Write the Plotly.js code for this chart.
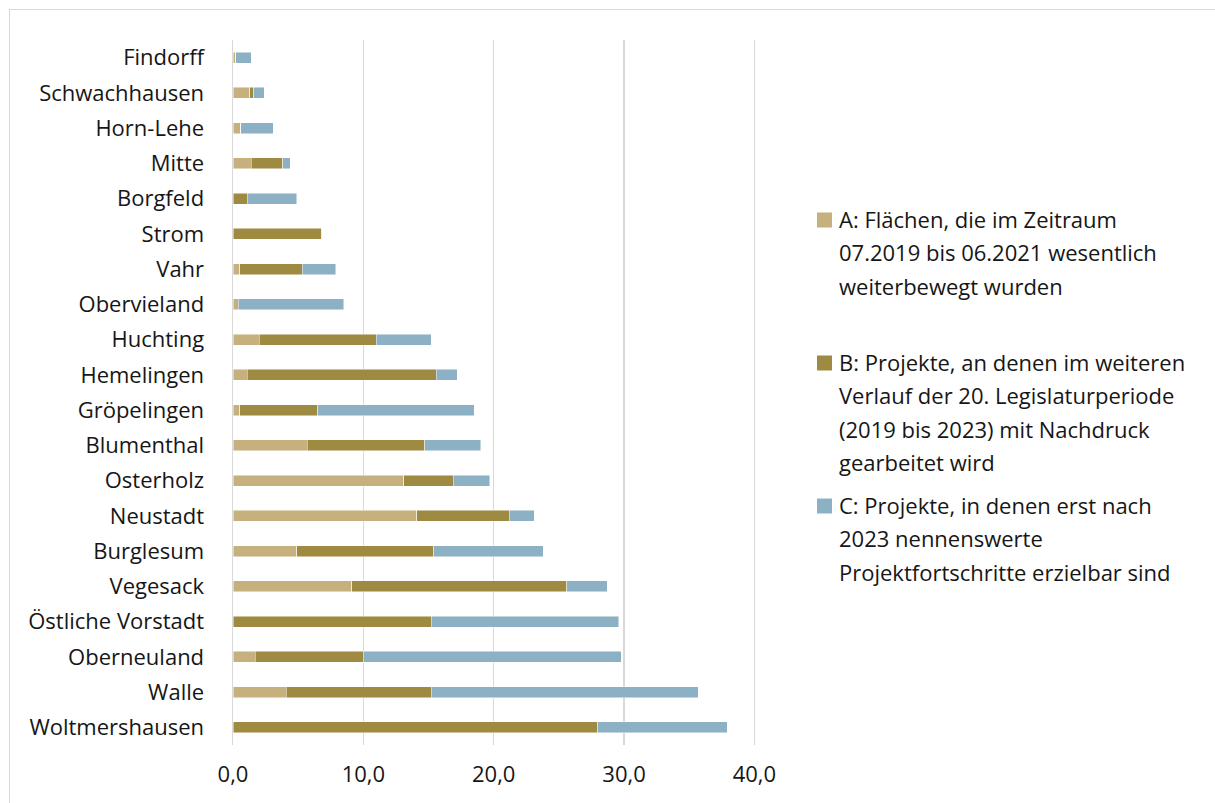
<!DOCTYPE html>
<html>
<head>
<meta charset="utf-8">
<script src="https://cdn.plot.ly/plotly-3.0.1.min.js"></script>
<style>
  html, body { margin: 0; padding: 0; background: #fff; overflow: hidden; }
  #frame { position: absolute; left: 9px; top: 9px; width: 1220px; height: 810px;
           border-left: 1.5px solid #d9d9d9; border-top: 1.5px solid #d9d9d9; pointer-events: none; }
  #chart { position: absolute; left: 0; top: 0; width: 1215px; height: 803px; }
</style>
</head>
<body>
<div id="chart"></div>
<div id="frame"></div>
<script>
// Stadtteile, top to bottom
const districts = ["Findorff", "Schwachhausen", "Horn-Lehe", "Mitte", "Borgfeld", "Strom", "Vahr",
  "Obervieland", "Huchting", "Hemelingen", "Gröpelingen", "Blumenthal", "Osterholz", "Neustadt",
  "Burglesum", "Vegesack", "Östliche Vorstadt", "Oberneuland", "Walle", "Woltmershausen"];

// A: Flächen, die im Zeitraum 07.2019 bis 06.2021 wesentlich weiterbewegt wurden
const seriesA = [0.2, 1.3, 0.6, 1.4, 0.0, 0.0, 0.5, 0.4, 2.0, 1.1, 0.5, 5.7, 13.1, 14.1, 4.9, 9.1, 0.0, 1.7, 4.1, 0.0];
// B: Projekte mit Nachdruck in der 20. Legislaturperiode
const seriesB = [0.0, 0.3, 0.0, 2.4, 1.1, 6.8, 4.8, 0.0, 9.0, 14.5, 6.0, 9.0, 3.8, 7.1, 10.5, 16.5, 15.2, 8.3, 11.1, 28.0];
// C: Projekte mit nennenswerten Fortschritten erst nach 2023
const seriesC = [1.2, 0.8, 2.5, 0.6, 3.8, 0.0, 2.6, 8.1, 4.2, 1.6, 12.0, 4.3, 2.8, 1.9, 8.4, 3.1, 14.4, 19.8, 20.5, 9.9];

const xTicks = [0, 10, 20, 30, 40];

const legendLines = [
  ["A: Flächen, die im Zeitraum", "07.2019 bis 06.2021 wesentlich", "weiterbewegt wurden"],
  ["B: Projekte, an denen im weiteren", "Verlauf der 20. Legislaturperiode", "(2019 bis 2023) mit Nachdruck", "gearbeitet wird"],
  ["C: Projekte, in denen erst nach", "2023 nennenswerte", "Projektfortschritte erzielbar sind"]
];

const colors = ["#c6b07d", "#9f8a41", "#8db1c4"];
const values = [seriesA, seriesB, seriesC];

const FONT = "Open Sans, sans-serif";
const TEXT = "#161616";
const SIZE = 22;

// page geometry of the plot area (px); x runs a little past 40 so its gridline shows
const W = 1215, H = 803;
const M = { l: 233, r: 458, t: 40, b: 58 };
const plotW = W - M.l - M.r, plotH = H - M.t - M.b;
const px = x => (x - M.l) / plotW;
const py = y => 1 - (y - M.t) / plotH;

const traces = values.map((v, i) => ({
  type: "bar",
  orientation: "h",
  y: districts,
  x: v,
  marker: { color: colors[i], line: { width: 0.8, color: "rgba(255,255,255,0.6)" } },
  showlegend: false,
  hoverinfo: "x+y"
}));

// legend drawn as a column of swatches and text lines
const legendTop = [220, 363, 506];
const lineStep = 33.3;
const annotations = [];
const shapes = [];
legendLines.forEach((lines, i) => {
  const y0 = legendTop[i];
  shapes.push({
    type: "rect", xref: "paper", yref: "paper",
    x0: px(817), x1: px(832), y0: py(y0 - 7.5), y1: py(y0 + 7.5),
    fillcolor: colors[i], line: { width: 0 }
  });
  lines.forEach((t, k) => {
    annotations.push({
      xref: "paper", yref: "paper", x: px(837), y: py(y0 + k * lineStep - 1),
      xanchor: "left", yanchor: "middle", showarrow: false, align: "left",
      text: t, font: { family: FONT, size: SIZE, color: TEXT }
    });
  });
});

const layout = {
  width: W, height: H,
  margin: M,
  barmode: "stack",
  bargap: 0.69,
  paper_bgcolor: "#fff",
  plot_bgcolor: "#fff",
  font: { family: FONT, size: SIZE, color: TEXT },
  xaxis: {
    range: [0, 40.2],
    tickvals: xTicks,
    tickformat: ".1f",
    showgrid: true,
    gridcolor: "#d9d9d9",
    gridwidth: 1.5,
    zeroline: false,
    showline: false,
    ticks: "",
    ticklabelstandoff: 14,
    tickfont: { family: FONT, size: SIZE, color: TEXT },
    fixedrange: true
  },
  yaxis: {
    type: "category",
    autorange: "reversed",
    showgrid: false,
    zeroline: false,
    showline: true,
    linecolor: "#d9d9d9",
    linewidth: 1.5,
    ticks: "",
    ticklabelstandoff: 23,
    tickfont: { family: FONT, size: SIZE, color: TEXT },
    fixedrange: true
  },
  separators: ",.",
  annotations: annotations,
  shapes: shapes
};

Plotly.newPlot("chart", traces, layout, { displayModeBar: false, staticPlot: true });
</script>
</body>
</html>
